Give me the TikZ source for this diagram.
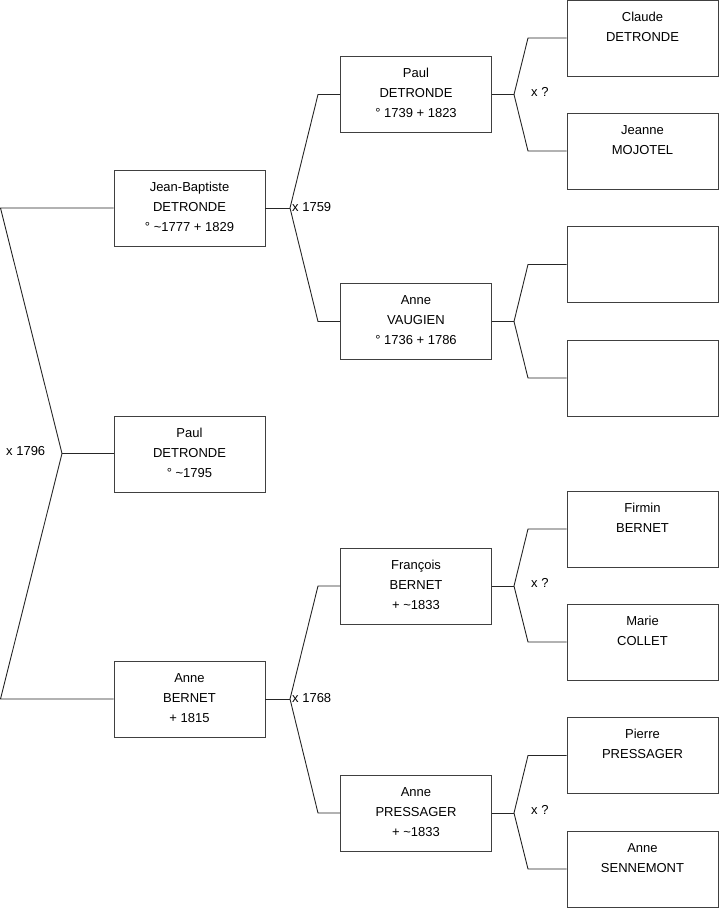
\documentclass[tikz,border=0pt]{standalone}
\usepackage{fontspec}
\setmainfont{Liberation Sans}
\newcommand\boxtext[1]{\parbox[c][76pt][t]{151pt}{\centering\fontsize{13}{20}\selectfont\rule{0pt}{21pt}#1}}
\tikzset{
  person/.style={draw=black!75, line width=0.9pt, inner sep=0pt, minimum width=151pt, minimum height=76pt, fill=white},
  link/.style={draw=black!85, line width=0.9pt},
  marr/.style={anchor=west, inner sep=0pt, font=\fontsize{13}{15}\selectfont}
}
\begin{document}
\begin{tikzpicture}[x=1pt,y=-1pt]
\useasboundingbox (0,0) rectangle (719,908);
% generation 1
\node[person] (jb) at (189.5,208) {\boxtext{Jean-Baptiste\\DETRONDE\\° \textasciitilde1777 + 1829}};
\node[person] (pc) at (189.5,454) {\boxtext{Paul\\DETRONDE\\° \textasciitilde1795}};
\node[person] (ab) at (189.5,699) {\boxtext{Anne\\BERNET\\+ 1815}};
% generation 2
\node[person] (pd) at (416,94.5) {\boxtext{Paul\\DETRONDE\\° 1739 + 1823}};
\node[person] (av) at (416,321.5) {\boxtext{Anne\\VAUGIEN\\° 1736 + 1786}};
\node[person] (fb) at (416,586) {\boxtext{François\\BERNET\\ + \textasciitilde1833}};
\node[person] (ap) at (416,813) {\boxtext{Anne\\PRESSAGER\\ + \textasciitilde1833}};
% generation 3
\node[person] (cd) at (642.5,38) {\boxtext{Claude\\DETRONDE}};
\node[person] (jm) at (642.5,151) {\boxtext{Jeanne\\MOJOTEL}};
\node[person] (e1) at (642.5,264.5) {\boxtext{}};
\node[person] (e2) at (642.5,378) {\boxtext{}};
\node[person] (fi) at (642.5,529) {\boxtext{Firmin\\BERNET}};
\node[person] (mc) at (642.5,642) {\boxtext{Marie\\COLLET}};
\node[person] (pp) at (642.5,755.5) {\boxtext{Pierre\\PRESSAGER}};
\node[person] (as) at (642.5,869) {\boxtext{Anne\\SENNEMONT}};
% junction coordinates
\coordinate (a1) at (0.5,208);
\coordinate (a2) at (0.5,699);
\coordinate (am) at (62,453.5);
\coordinate (b1) at (290,208);
\coordinate (b1u) at (318,94.5);
\coordinate (b1d) at (318,321.5);
\coordinate (b2) at (290,699);
\coordinate (b2u) at (318,586);
\coordinate (b2d) at (318,813);
\coordinate (c1) at (514,94.5);
\coordinate (c1u) at (528,38);
\coordinate (c1d) at (528,151);
\coordinate (c2) at (514,321.5);
\coordinate (c2u) at (528,264.5);
\coordinate (c2d) at (528,378);
\coordinate (c3) at (514,586);
\coordinate (c3u) at (528,529);
\coordinate (c3d) at (528,642);
\coordinate (c4) at (514,813);
\coordinate (c4u) at (528,755.5);
\coordinate (c4d) at (528,869);
% gen 1 links
\draw[link] (jb.west) -- (a1) -- (am) -- (a2) -- (ab.west);
\draw[link] (am) -- (am -| pc.west);
\node[marr] (m1) at (6,451) {x 1796};
% gen 2 links
\draw[link] (jb.east) -- (b1);
\draw[link] (pd.west) -- (b1u) -- (b1) -- (b1d) -- (av.west);
\node[marr] (m2) at (292,207) {x 1759};
\draw[link] (ab.east) -- (b2);
\draw[link] (fb.west) -- (b2u) -- (b2) -- (b2d) -- (ap.west);
\node[marr] (m3) at (292,698) {x 1768};
% gen 3 links
\draw[link] (pd.east) -- (c1);
\draw[link] (cd.west) -- (c1u) -- (c1) -- (c1d) -- (jm.west);
\node[marr] (m4) at (531,92) {x ?};
\draw[link] (av.east) -- (c2);
\draw[link] (e1.west) -- (c2u) -- (c2) -- (c2d) -- (e2.west);
\draw[link] (fb.east) -- (c3);
\draw[link] (fi.west) -- (c3u) -- (c3) -- (c3d) -- (mc.west);
\node[marr] (m5) at (531,583) {x ?};
\draw[link] (ap.east) -- (c4);
\draw[link] (pp.west) -- (c4u) -- (c4) -- (c4d) -- (as.west);
\node[marr] (m6) at (531,810) {x ?};
\end{tikzpicture}
\end{document}
